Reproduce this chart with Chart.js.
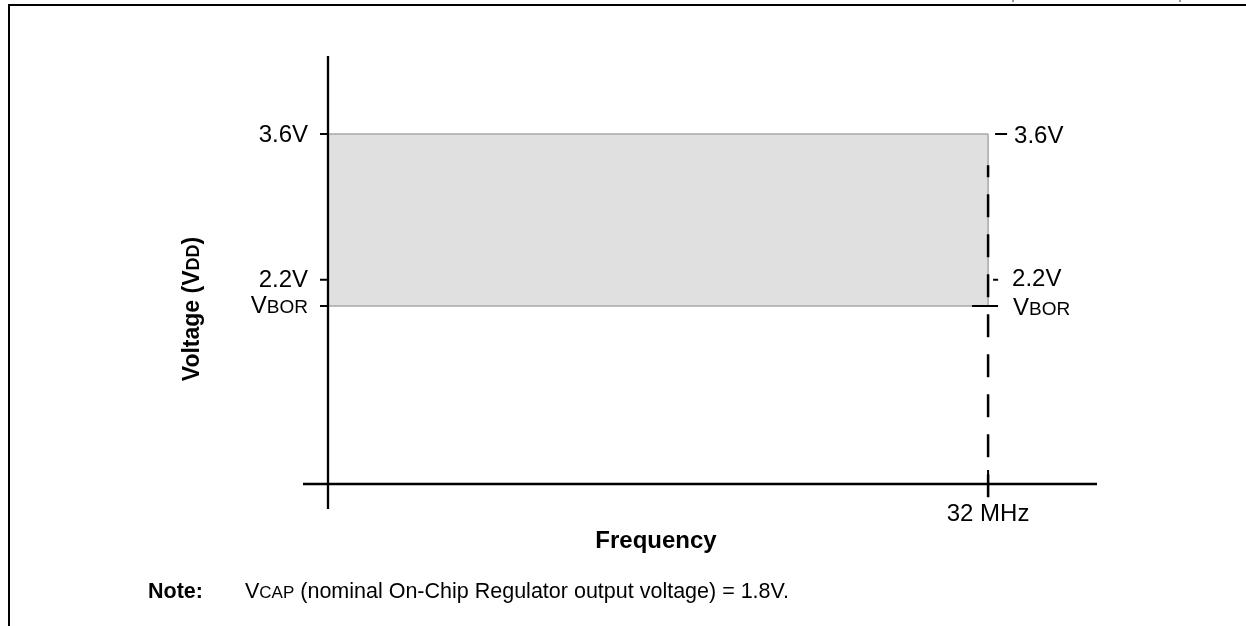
<!DOCTYPE html>
<html><head><meta charset="utf-8">
<script src="https://cdn.jsdelivr.net/npm/chart.js@4"></script>
<style>html,body{margin:0;padding:0;background:#fff;overflow:hidden}#wrap{width:1246px;height:626px;position:relative}</style>
</head><body><div id="wrap"><canvas id="c" width="1246" height="626" style="width:1246px;height:626px"></canvas></div>
<script>
// ---- data ----
const freqRange = [0, 32];            // MHz, operating range
const vddMax = [3.6, 3.6];            // V
const vBor = [1.95, 1.95];            // V (VBOR)
const voltTicks = [3.6, 2.2, 1.95];
const voltTickLabels = ['3.6V', '2.2V', ['V', 'BOR']];
const freqTicks = [32];
const freqTickLabels = ['32 MHz'];
const dashSpan = [3.3, 0];            // V, extent of the dashed 32 MHz guide
const xAxisAt = 0.24;                 // V level where the frequency axis is drawn
const xLimits = [-1.212, 37.28];
const yLimits = [0, 4.349];

const FONT = '"Liberation Sans", Arial, Helvetica, sans-serif';
const FS = 24;

function richText(ctx, parts, x, y, align, bold, size) {
  const arr = Array.isArray(parts) ? parts : [parts];
  const w = bold ? 'bold ' : '';
  const fonts = [w + size + 'px ' + FONT, w + Math.round(size * 0.8) + 'px ' + FONT];
  let widths = arr.map((s, i) => { ctx.font = fonts[i % 2]; return ctx.measureText(s).width; });
  const total = widths.reduce((a, b) => a + b, 0);
  let sx = align === 'right' ? x - total : align === 'center' ? x - total / 2 : x;
  ctx.textBaseline = 'alphabetic';
  ctx.textAlign = 'left';
  arr.forEach((s, i) => { ctx.font = fonts[i % 2]; ctx.fillText(s, sx, y); sx += widths[i]; });
}

const decor = {
  id: 'decor',
  afterDatasetsDraw(chart) {
    const ctx = chart.ctx, xs = chart.scales.x, ys = chart.scales.y;
    const X = v => xs.getPixelForValue(v), Y = v => ys.getPixelForValue(v);
    ctx.save();
    ctx.strokeStyle = '#000';
    ctx.fillStyle = '#000';
    ctx.lineCap = 'butt';
    // page frame
    ctx.lineWidth = 2;
    ctx.beginPath();
    ctx.moveTo(9, 626); ctx.lineTo(9, 5); ctx.lineTo(1246, 5);
    ctx.stroke();
    ctx.fillStyle = '#999';
    ctx.fillRect(1012, 0, 2, 2); ctx.fillRect(1179, 0, 2, 2);
    ctx.fillStyle = '#000';
    // axes
    ctx.lineWidth = 2.3;
    ctx.beginPath();
    ctx.moveTo(X(0), Y(yLimits[1])); ctx.lineTo(X(0), Y(yLimits[0]));
    ctx.moveTo(X(xLimits[0]), Y(xAxisAt)); ctx.lineTo(X(xLimits[1]), Y(xAxisAt));
    ctx.stroke();
    // left ticks
    ctx.lineWidth = 2;
    ctx.beginPath();
    voltTicks.forEach(v => { ctx.moveTo(X(0) - 8, Y(v)); ctx.lineTo(X(0), Y(v)); });
    // right ticks
    const rt = [[7, 19], [5, 10], [-16, 10]];
    voltTicks.forEach((v, i) => { ctx.moveTo(X(freqRange[1]) + rt[i][0], Y(v)); ctx.lineTo(X(freqRange[1]) + rt[i][1], Y(v)); });
    // frequency tick
    freqTicks.forEach(f => { ctx.moveTo(X(f), Y(xAxisAt) - 14); ctx.lineTo(X(f), Y(xAxisAt) + 13); });
    ctx.stroke();
    // labels
    const leftDy = [8, 7, 7], rightDy = [9, 6, 9], rightDx = [26, 24, 25];
    voltTicks.forEach((v, i) => {
      const lab = voltTickLabels[i];
      richText(ctx, lab, X(0) - 20, Y(v) + leftDy[i], 'right', false, FS);
      richText(ctx, lab, X(freqRange[1]) + rightDx[i], Y(v) + rightDy[i], 'left', false, FS);
    });
    freqTicks.forEach((f, i) => richText(ctx, freqTickLabels[i], X(f), 521, 'center', false, FS));
    richText(ctx, 'Frequency', 656, 548, 'center', true, FS);
    ctx.save();
    ctx.translate(199, 309); ctx.rotate(-Math.PI / 2);
    richText(ctx, ['Voltage (V', 'DD', ')'], 0, 0, 'center', true, 23);
    ctx.restore();
    richText(ctx, 'Note:', 148, 598, 'left', true, 21.5);
    richText(ctx, ['V', 'CAP', ' (nominal On-Chip Regulator output voltage) = 1.8V.'], 245, 598, 'left', false, 21.5);
    ctx.restore();
  }
};

new Chart(document.getElementById('c'), {
  type: 'scatter',
  data: {
    datasets: [
      { data: freqRange.map((f, i) => ({ x: f, y: vddMax[i] })), showLine: true, order: 3,
        borderColor: '#a8a8a8', borderWidth: 1.5, backgroundColor: '#e0e0e0',
        fill: { value: vBor[0] }, pointRadius: 0 },
      { data: [{ x: freqRange[0], y: vBor[0] }, { x: freqRange[1], y: vBor[1] }, { x: freqRange[1], y: vddMax[1] }],
        showLine: true, order: 2, borderColor: '#a8a8a8', borderWidth: 1.5, fill: false, pointRadius: 0 },
      { data: dashSpan.map(v => ({ x: freqRange[1], y: v })), showLine: true, order: 1,
        borderColor: '#000', borderWidth: 2.5, borderDash: [23, 17], borderDashOffset: 11, fill: false, pointRadius: 0 }
    ]
  },
  options: {
    responsive: false, animation: false, devicePixelRatio: 1,
    layout: { padding: { left: 303, right: 149, top: 56, bottom: 117 } },
    plugins: { legend: { display: false }, tooltip: { enabled: false }, title: { display: false } },
    scales: {
      x: { type: 'linear', min: xLimits[0], max: xLimits[1], display: false },
      y: { type: 'linear', min: yLimits[0], max: yLimits[1], display: false }
    }
  },
  plugins: [decor]
});
</script>
</body></html>
